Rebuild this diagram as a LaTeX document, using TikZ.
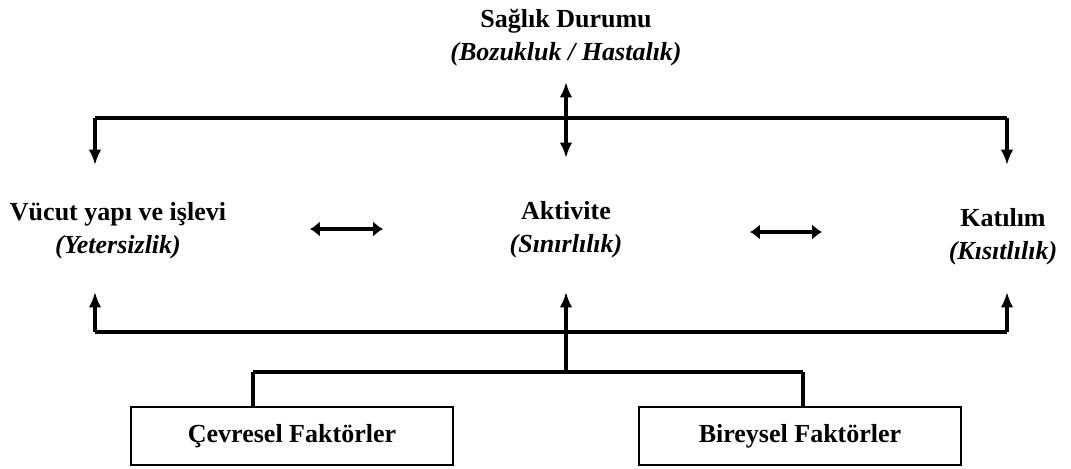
\documentclass[tikz,border=0pt]{standalone}
\usepackage{fontspec}
\setmainfont{Liberation Serif}
\usetikzlibrary{arrows.meta,positioning}

\begin{document}
\begin{tikzpicture}[x=0.025cm,y=-0.025cm,
  baslik/.style={font=\bfseries\fontsize{18.5}{23.5}\selectfont, align=center, inner sep=0pt},
  faktor/.style={draw, line width=1.8pt, font=\bfseries\fontsize{18.5}{22}\selectfont,
    minimum width=8.05cm, minimum height=1.45cm},
  hat/.style={line width=2.9pt},
  ok/.style={line width=2.2pt, -{Latex[length=11pt,width=9pt]}},
  cift/.style={line width=2.2pt, {Latex[length=11pt,width=9pt]}-{Latex[length=11pt,width=9pt]}},
  yancift/.style={line width=2.8pt, {Latex[length=7pt,width=11pt]}-{Latex[length=7pt,width=11pt]}}]
  \useasboundingbox (0,0) rectangle (1071,468);

  % kavramlar
  \node[baslik] (saglik)   at (566,38)  {Sağlık Durumu\\\textit{(Bozukluk / Hastalık)}};
  \node[baslik] (vucut)    at (118,231) {Vücut yapı ve işlevi\\\textit{(Yetersizlik)}};
  \node[baslik] (aktivite) at (566,230) {Aktivite\\\textit{(Sınırlılık)}};
  \node[baslik] (katilim)  at (1003,237){Katılım\\\textit{(Kısıtlılık)}};

  \node[faktor] (cevre)    at (292,436) {Çevresel Faktörler};
  \node[faktor] (bireysel) at (800,436) {Bireysel Faktörler};

  % baglanti noktalari
  \coordinate (ustL)  at (95,118);
  \coordinate (ustR)  at (1007,118);
  \coordinate (altL)  at (95,332);
  \coordinate (altM)  at (566,332);
  \coordinate (altR)  at (1007,332);
  \coordinate (kok)   at (566,372);
  \coordinate (kokL)  at (253,372);
  \coordinate (kokR)  at (803,372);

  % ust hat
  \draw[hat] (ustL) -- (ustR);
  \draw[cift] (566,82) -- (566,158);
  \draw[ok] (ustL) -- (95,165);
  \draw[ok] (ustR) -- (1007,165);

  % yatay oklar
  \draw[yancift] (310,229) -- (383,229);
  \draw[yancift] (750,232) -- (822,232);

  % alt hat
  \draw[hat] (altL) -- (altR);
  \draw[ok] (altL) -- (95,292);
  \draw[ok] (altM) -- (566,292);
  \draw[ok] (altR) -- (1007,292);
  \draw[line width=2.2pt] (kok) -- (altM);
  \draw[hat] (kokL) -- (kokR);
  \draw[line width=2.2pt] (kokL) -- (cevre.north -| kokL);
  \draw[line width=2.2pt] (kokR) -- (bireysel.north -| kokR);
\end{tikzpicture}
\end{document}
